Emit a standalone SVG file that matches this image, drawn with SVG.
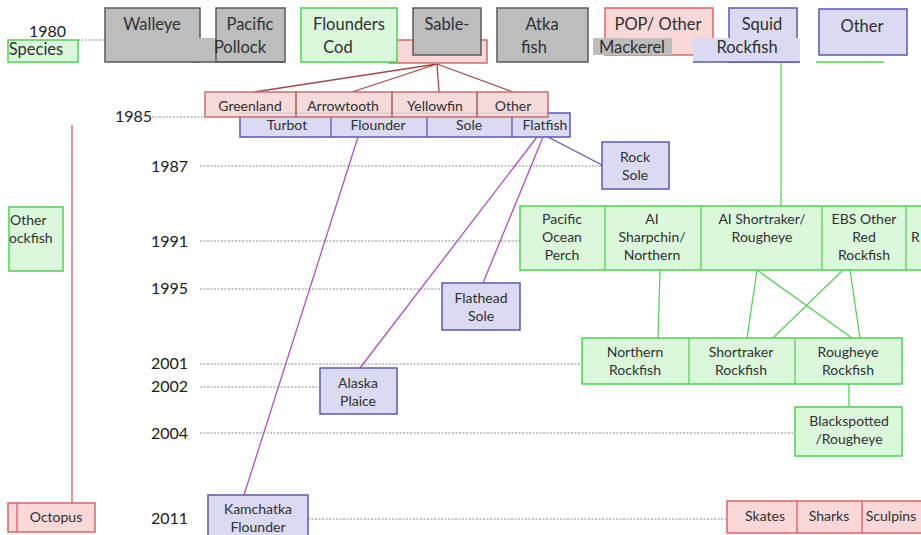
<svg xmlns="http://www.w3.org/2000/svg" width="921" height="535" viewBox="0 0 921 535">
<style>
text{font-family:Lato,"Liberation Sans",sans-serif;fill:#303030;font-size:14px;text-anchor:middle}
.big{font-size:16.5px}
.yr{font-size:16px;text-anchor:end;fill:#202020}
.gray{fill:#bdbdbd;stroke:#5a5a5a;stroke-width:1.5}
.green{fill:#dcf8dc;stroke:#4cd44c;stroke-width:1.5}
.pink{fill:#fad8d8;stroke:#e06464;stroke-width:1.5}
.rose{fill:#f6d6d6;stroke:#c07070;stroke-width:1.5}
.lav{fill:#dadaf2;stroke:#5a5ab0;stroke-width:1.5}
.dot{stroke:#8a8a8a;stroke-width:1;stroke-dasharray:2 1.5;fill:none}
.fan{stroke:#a04848;stroke-width:1.3;fill:none}
.mag{stroke:#b050c0;stroke-width:1.3;fill:none}
.blu{stroke:#6050b8;stroke-width:1.3;fill:none}
.grn{stroke:#5cd05c;stroke-width:1.3;fill:none}
.red{stroke:#e05a6a;stroke-width:1.3;fill:none}
</style>
<rect width="921" height="535" fill="#fff"/>
<g id="timeline">
<text class="yr" x="66" y="37">1980</text>
<text class="yr" x="152" y="122">1985</text>
<text class="yr" x="188" y="172">1987</text>
<text class="yr" x="188" y="247">1991</text>
<text class="yr" x="188" y="294">1995</text>
<text class="yr" x="188" y="369">2001</text>
<text class="yr" x="188" y="392">2002</text>
<text class="yr" x="188" y="439">2004</text>
<text class="yr" x="188" y="524">2011</text>
<path class="dot" d="M78 40H105M152 117H205M200 166H602M200 241H520M200 289H442M200 364H582M200 387H320M200 433H795M308 519H727"/>
</g>
<g id="connectors">
<path class="fan" d="M437 64L254 92M437 64L352 92M437 64L439 92M437 64L513 92"/>
<path class="mag" d="M358 137L244 495M537 137L360 368M543 137L483 283"/>
<path class="blu" d="M548 137L602 165"/>
<path class="grn" d="M781 62V206M660 270L658 338M757 270L747 338M757 270L852 338M843 270L773 338M850 270L860 338M849 384V407"/>
<path class="red" d="M72 125V503"/>
</g>
<g id="top-row">
<rect class="pink" x="389" y="40" width="98" height="23"/>
<rect class="gray" x="105" y="8" width="95" height="54"/>
<rect class="gray" x="193" y="38" width="92" height="24" style="stroke:none"/>
<rect class="gray" x="216" y="8" width="69" height="54"/>
<path d="M193 62H285" stroke="#5a5a5a" stroke-width="1.5"/>
<rect class="green" x="301" y="8" width="96" height="54"/>
<rect class="gray" x="413" y="8" width="68" height="47"/>
<rect class="gray" x="497" y="8" width="91" height="54"/>
<rect class="pink" x="605" y="8" width="108" height="47"/>
<rect class="gray" x="593" y="38" width="79" height="17" style="stroke:none"/>
<rect class="lav" x="729" y="8" width="68" height="54"/>
<rect class="lav" x="693" y="38" width="107" height="24" style="stroke:none"/>
<path d="M693 62H800" stroke="#5a5ab0" stroke-width="1.5"/>
<rect class="lav" x="819" y="9" width="88" height="46"/>
<path d="M816 62H884" stroke="#4cd44c" stroke-width="1.5"/>
<rect class="green" x="8" y="40" width="70" height="22"/>
<text class="big" x="152" y="30">Walleye</text>
<text class="big" x="250" y="30">Pacific</text>
<text class="big" x="349" y="30">Flounders</text>
<text class="big" x="447" y="30">Sable-</text>
<text class="big" x="542" y="30">Atka</text>
<text class="big" x="658" y="30">POP/ Other</text>
<text class="big" x="762" y="30">Squid</text>
<text class="big" x="862" y="32">Other</text>
<text class="big" x="36" y="55">Species</text>
<text class="big" x="240" y="53">Pollock</text>
<text class="big" x="338" y="53">Cod</text>
<text class="big" x="534" y="53">fish</text>
<text class="big" x="632" y="53">Mackerel</text>
<text class="big" x="747" y="53">Rockfish</text>
</g>
<g id="flatfish-row">
<rect class="lav" x="240" y="113" width="330" height="24"/>
<path class="blu" d="M331 113V137M427 113V137M512 113V137"/>
<rect class="rose" x="205" y="92" width="343" height="25" style="fill-opacity:0.9"/>
<path class="fan" d="M296 92V117M392 92V117M477 92V117"/>
<text x="250" y="111">Greenland</text>
<text x="343" y="111">Arrowtooth</text>
<text x="435" y="111">Yellowfin</text>
<text x="513" y="111">Other</text>
<text x="287" y="130">Turbot</text>
<text x="378" y="130">Flounder</text>
<text x="469" y="130">Sole</text>
<text x="545" y="130">Flatfish</text>
</g>
<g id="rock-sole"><rect class="lav" x="602" y="142" width="67" height="47"/><text x="635" y="162">Rock</text><text x="635" y="180">Sole</text></g>
<g id="flathead-sole"><rect class="lav" x="442" y="283" width="78" height="47"/><text x="481" y="303">Flathead</text><text x="481" y="321">Sole</text></g>
<g id="alaska-plaice"><rect class="lav" x="320" y="368" width="77" height="46"/><text x="358" y="388">Alaska</text><text x="358" y="406">Plaice</text></g>
<g id="kamchatka"><rect class="lav" x="208" y="495" width="100" height="45"/><text x="258" y="514">Kamchatka</text><text x="258" y="532">Flounder</text></g>
<g id="other-rockfish"><rect class="green" x="9" y="207" width="54" height="64"/><text x="10" y="225" style="text-anchor:start">Other</text><text x="9" y="243" style="text-anchor:start">ockfish</text></g>
<g id="octopus"><rect class="pink" x="8" y="503" width="87" height="29"/><path class="red" d="M17 503V532"/><text x="56" y="522">Octopus</text></g>
<g id="rockfish-row">
<rect class="green" x="520" y="206" width="410" height="64"/>
<path class="grn" d="M605 206V270M701 206V270M822 206V270M906 206V270"/>
<text x="562" y="224">Pacific</text><text x="562" y="242">Ocean</text><text x="562" y="260">Perch</text>
<text x="652" y="224">AI</text><text x="652" y="242">Sharpchin/</text><text x="652" y="260">Northern</text>
<text x="762" y="224">AI Shortraker/</text><text x="762" y="242">Rougheye</text>
<text x="864" y="224">EBS Other</text><text x="864" y="242">Red</text><text x="864" y="260">Rockfish</text>
<text x="911" y="242" style="text-anchor:start">R</text>
</g>
<g id="rockfish-2001">
<rect class="green" x="582" y="338" width="320" height="46"/>
<path class="grn" d="M689 338V384M795 338V384"/>
<text x="635" y="357">Northern</text><text x="635" y="375">Rockfish</text>
<text x="741" y="357">Shortraker</text><text x="741" y="375">Rockfish</text>
<text x="848" y="357">Rougheye</text><text x="848" y="375">Rockfish</text>
</g>
<g id="blackspotted"><rect class="green" x="795" y="407" width="107" height="49"/><text x="849" y="426">Blackspotted</text><text x="849" y="444">/Rougheye</text></g>
<g id="skates-row">
<rect class="pink" x="727" y="501" width="200" height="32"/>
<path class="red" d="M797 501V533M862 501V533"/>
<text x="765" y="521">Skates</text><text x="829" y="521">Sharks</text><text x="891" y="521">Sculpins</text>
</g>
</svg>
